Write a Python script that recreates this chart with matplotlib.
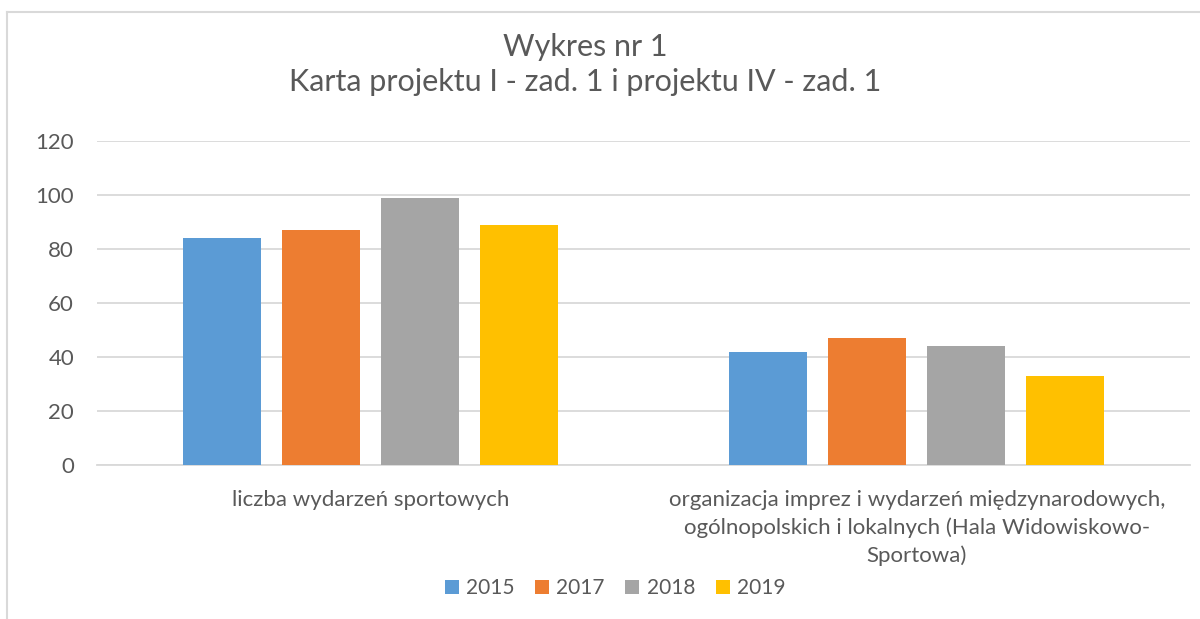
'''
Grouped bar chart: Wykres nr 1 - Karta projektu I i projektu IV.
'''
import numpy as np
import matplotlib.pyplot as plt
from matplotlib.lines import Line2D

# Data
categories = [
  "liczba wydarzeń sportowych",
  "organizacja imprez i wydarzeń międzynarodowych,\nogólnopolskich i lokalnych (Hala Widowiskowo-\nSportowa)",
]
years = ["2015", "2017", "2018", "2019"]
values_2015 = [84, 42]
values_2017 = [87, 47]
values_2018 = [99, 44]
values_2019 = [89, 33]
series_values = [values_2015, values_2017, values_2018, values_2019]
colors = ["#5B9BD5", "#ED7D31", "#A5A5A5", "#FFC000"]
y_ticks = [0, 20, 40, 60, 80, 100, 120]

text_color = "#595959"
grid_color = "#D9D9D9"
plt.rcParams['font.family'] = ['Lato', 'DejaVu Sans']

W, H = 1200, 619
fig = plt.figure(figsize=(W / 100, H / 100), dpi=100)
ax = fig.add_axes([97 / W, (H - 465) / H, (1190 - 97) / W, (465 - 141) / H])

# Bars
x = np.arange(len(categories))
step = 99 / 546.5
width = 78 / 546.5
for i, (year, vals, col) in enumerate(zip(years, series_values, colors)):
  ax.bar(x + (i - 1.5) * step, vals, width=width, color=col, label=year, zorder=3)

ax.set_xlim(-0.5, 1.5)
ax.set_ylim(0, 120)
ax.set_yticks(y_ticks)
ax.set_yticklabels([str(v) for v in y_ticks], color=text_color, fontsize=16)
ax.set_xticks(x)
ax.set_xticklabels(categories, color=text_color, fontsize=16, linespacing=1.45)
ax.tick_params(axis='both', length=0)
ax.tick_params(axis='y', pad=16.5)
ax.tick_params(axis='x', pad=18)
ax.grid(axis='y', color=grid_color, linewidth=1.3, zorder=0)
for side in ['top', 'right', 'left']:
  ax.spines[side].set_visible(False)
ax.spines['bottom'].set_color(grid_color)
ax.spines['bottom'].set_linewidth(1.3)

# Title
fig.text(585 / W, 1 - 47 / H, "Wykres nr 1", ha='center', va='center', fontsize=22, color=text_color)
fig.text(585 / W, 1 - 82 / H, "Karta projektu I - zad. 1 i projektu IV - zad. 1",
         ha='center', va='center', fontsize=22, color=text_color)

# Legend
fig.legend(loc='center', bbox_to_anchor=(615 / W, 1 - 588 / H), ncol=4, frameon=False,
           fontsize=15, labelcolor=text_color, handlelength=0.67, handleheight=0.67,
           handletextpad=0.34, columnspacing=1.0)

# Chart frame (left and top edges)
fig.add_artist(Line2D([7 / W, 7 / W], [0, 1 - 12 / H], color=grid_color, linewidth=1.5))
fig.add_artist(Line2D([7 / W, 1], [1 - 12 / H, 1 - 12 / H], color=grid_color, linewidth=1.5))

fig.savefig("out.png", dpi=100)
